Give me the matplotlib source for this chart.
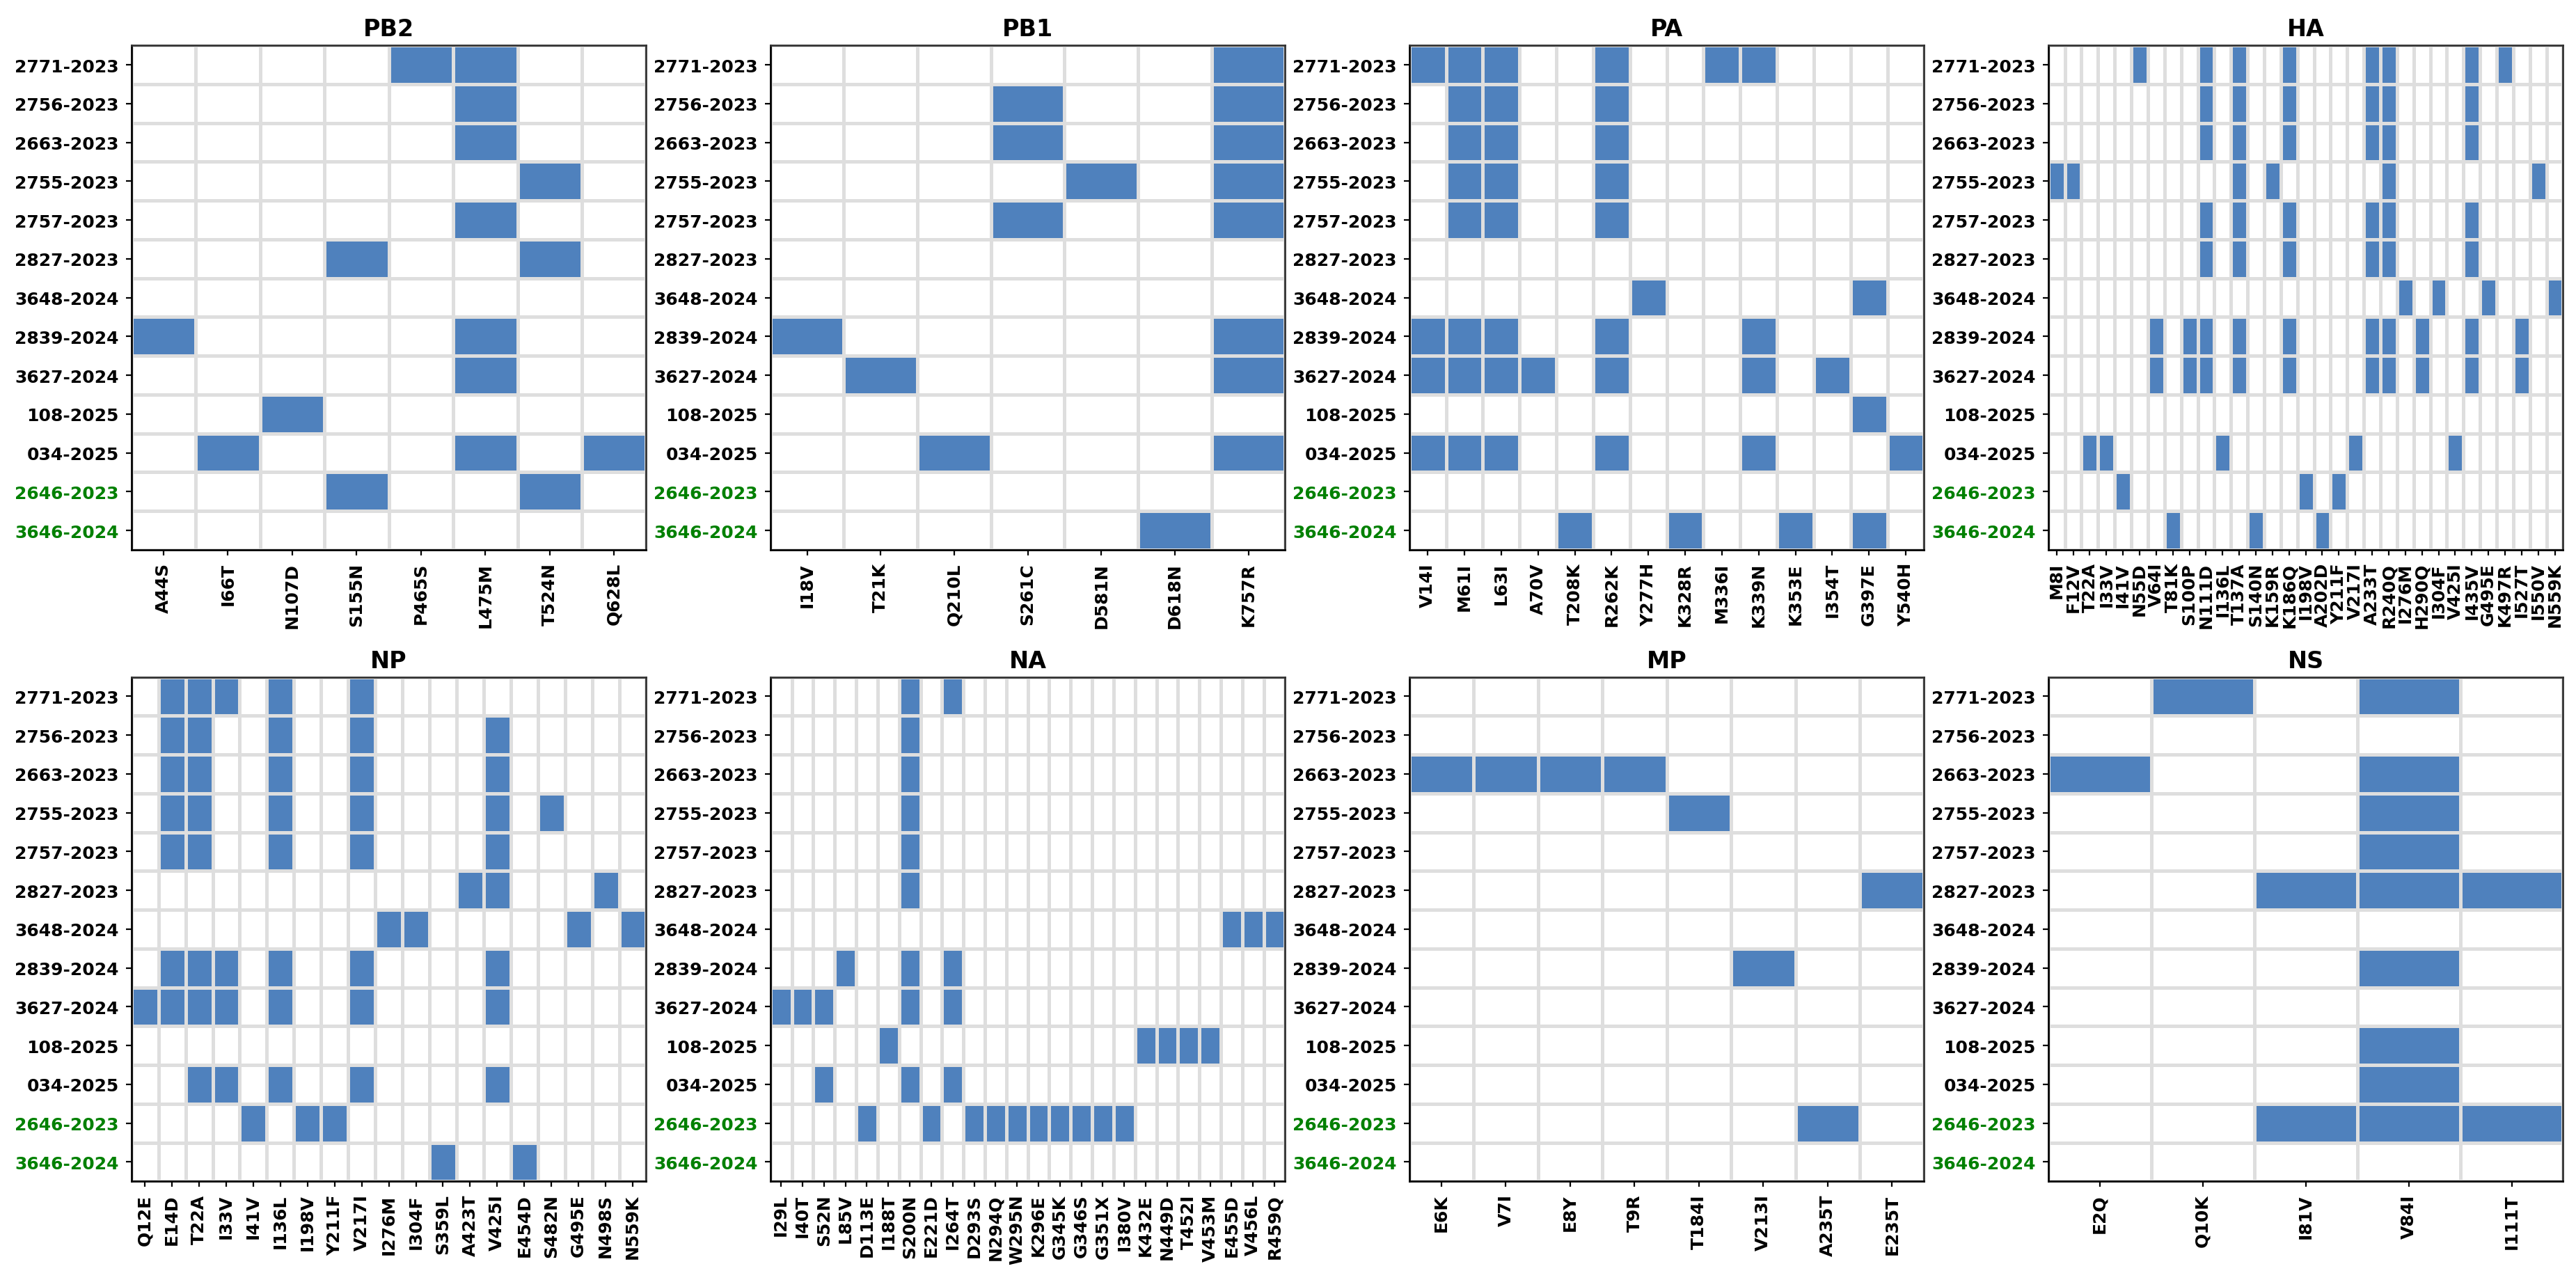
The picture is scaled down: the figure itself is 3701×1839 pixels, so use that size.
import numpy as np
import matplotlib
matplotlib.use("Agg")
import matplotlib.pyplot as plt
from matplotlib.colors import ListedColormap

# samples (top to bottom); the last two are highlighted in green
samples = ["2771-2023", "2756-2023", "2663-2023", "2755-2023", "2757-2023",
           "2827-2023", "3648-2024", "2839-2024", "3627-2024", "108-2025",
           "034-2025", "2646-2023", "3646-2024"]
green_samples = ["2646-2023", "3646-2024"]

# mutations per segment (columns)
pb2_muts = ["A44S", "I66T", "N107D", "S155N", "P465S", "L475M", "T524N", "Q628L"]
pb1_muts = ["I18V", "T21K", "Q210L", "S261C", "D581N", "D618N", "K757R"]
pa_muts = ["V14I", "M61I", "L63I", "A70V", "T208K", "R262K", "Y277H", "K328R",
           "M336I", "K339N", "K353E", "I354T", "G397E", "Y540H"]
ha_muts = ["M8I", "F12V", "T22A", "I33V", "I41V", "N55D", "V64I", "T81K", "S100P",
           "N111D", "I136L", "T137A", "S140N", "K159R", "K186Q", "I198V", "A202D",
           "Y211F", "V217I", "A233T", "R240Q", "I276M", "H290Q", "I304F", "V425I",
           "I435V", "G495E", "K497R", "I527T", "I550V", "N559K"]
np_muts = ["Q12E", "E14D", "T22A", "I33V", "I41V", "I136L", "I198V", "Y211F", "V217I",
           "I276M", "I304F", "S359L", "A423T", "V425I", "E454D", "S482N", "G495E",
           "N498S", "N559K"]
na_muts = ["I29L", "I40T", "S52N", "L85V", "D113E", "I188T", "S200N", "E221D", "I264T",
           "D293S", "N294Q", "W295N", "K296E", "G345K", "G346S", "G351X", "I380V",
           "K432E", "N449D", "T452I", "V453M", "E455D", "V456L", "R459Q"]
mp_muts = ["E6K", "V7I", "E8Y", "T9R", "T184I", "V213I", "A235T", "E235T"]
ns_muts = ["E2Q", "Q10K", "I81V", "V84I", "I111T"]

# mutations present in each sample (same order as samples)
pb2_hits = [["P465S", "L475M"], ["L475M"], ["L475M"], ["T524N"], ["L475M"],
            ["S155N", "T524N"], [], ["A44S", "L475M"], ["L475M"], ["N107D"],
            ["I66T", "L475M", "Q628L"], ["S155N", "T524N"], []]
pb1_hits = [["K757R"], ["S261C", "K757R"], ["S261C", "K757R"], ["D581N", "K757R"],
            ["S261C", "K757R"], [], [], ["I18V", "K757R"], ["T21K", "K757R"], [],
            ["Q210L", "K757R"], [], ["D618N"]]
pa_hits = [["V14I", "M61I", "L63I", "R262K", "M336I", "K339N"],
           ["M61I", "L63I", "R262K"], ["M61I", "L63I", "R262K"],
           ["M61I", "L63I", "R262K"], ["M61I", "L63I", "R262K"], [],
           ["Y277H", "G397E"],
           ["V14I", "M61I", "L63I", "R262K", "K339N"],
           ["V14I", "M61I", "L63I", "A70V", "R262K", "K339N", "I354T"],
           ["G397E"],
           ["V14I", "M61I", "L63I", "R262K", "K339N", "Y540H"], [],
           ["T208K", "K328R", "K353E", "G397E"]]
ha_hits = [["N55D", "N111D", "T137A", "K186Q", "A233T", "R240Q", "I435V", "K497R"],
           ["N111D", "T137A", "K186Q", "A233T", "R240Q", "I435V"],
           ["N111D", "T137A", "K186Q", "A233T", "R240Q", "I435V"],
           ["M8I", "F12V", "T137A", "K159R", "R240Q", "I550V"],
           ["N111D", "T137A", "K186Q", "A233T", "R240Q", "I435V"],
           ["N111D", "T137A", "K186Q", "A233T", "R240Q", "I435V"],
           ["I276M", "I304F", "G495E", "N559K"],
           ["V64I", "S100P", "N111D", "T137A", "K186Q", "A233T", "R240Q", "H290Q",
            "I435V", "I527T"],
           ["V64I", "S100P", "N111D", "T137A", "K186Q", "A233T", "R240Q", "H290Q",
            "I435V", "I527T"],
           [],
           ["T22A", "I33V", "I136L", "V217I", "V425I"],
           ["I41V", "I198V", "Y211F"],
           ["T81K", "S140N", "A202D"]]
np_hits = [["E14D", "T22A", "I33V", "I136L", "V217I"],
           ["E14D", "T22A", "I136L", "V217I", "V425I"],
           ["E14D", "T22A", "I136L", "V217I", "V425I"],
           ["E14D", "T22A", "I136L", "V217I", "V425I", "S482N"],
           ["E14D", "T22A", "I136L", "V217I", "V425I"],
           ["A423T", "V425I", "N498S"],
           ["I276M", "I304F", "G495E", "N559K"],
           ["E14D", "T22A", "I33V", "I136L", "V217I", "V425I"],
           ["Q12E", "E14D", "T22A", "I33V", "I136L", "V217I", "V425I"],
           [],
           ["T22A", "I33V", "I136L", "V217I", "V425I"],
           ["I41V", "I198V", "Y211F"],
           ["S359L", "E454D"]]
na_hits = [["S200N", "I264T"], ["S200N"], ["S200N"], ["S200N"], ["S200N"], ["S200N"],
           ["E455D", "V456L", "R459Q"],
           ["L85V", "S200N", "I264T"],
           ["I29L", "I40T", "S52N", "S200N", "I264T"],
           ["I188T", "K432E", "N449D", "T452I", "V453M"],
           ["S52N", "S200N", "I264T"],
           ["D113E", "E221D", "D293S", "N294Q", "W295N", "K296E", "G345K", "G346S",
            "G351X", "I380V"],
           []]
mp_hits = [[], [], ["E6K", "V7I", "E8Y", "T9R"], ["T184I"], [], ["E235T"], [],
           ["V213I"], [], [], [], ["A235T"], []]
ns_hits = [["Q10K", "V84I"], [], ["E2Q", "V84I"], ["V84I"], ["V84I"],
           ["I81V", "V84I", "I111T"], [], ["V84I"], [], ["V84I"], ["V84I"],
           ["I81V", "V84I", "I111T"], []]

segments = [("PB2", pb2_muts, pb2_hits), ("PB1", pb1_muts, pb1_hits),
            ("PA", pa_muts, pa_hits), ("HA", ha_muts, ha_hits),
            ("NP", np_muts, np_hits), ("NA", na_muts, na_hits),
            ("MP", mp_muts, mp_hits), ("NS", ns_muts, ns_hits)]

cmap = ListedColormap(["white", "#4f81bd"])

fig, axes = plt.subplots(2, 4, figsize=(18.505, 9.2), dpi=200)
fig.subplots_adjust(left=0.051, right=0.995, bottom=0.077, top=0.964,
                    wspace=0.241, hspace=0.252)

for ax, (name, muts, hits) in zip(axes.flat, segments):
    # 0/1 presence matrix, rows = samples, cols = mutations
    mat = np.zeros((len(samples), len(muts)))
    for i, row in enumerate(hits):
        for m in row:
            mat[i, muts.index(m)] = 1

    ax.pcolormesh(mat, cmap=cmap, vmin=0, vmax=1,
                  edgecolors="#dedede", linewidth=1.2)
    ax.set_xlim(0, len(muts))
    ax.set_ylim(len(samples), 0)

    ax.set_xticks(np.arange(len(muts)) + 0.5)
    ax.set_xticklabels(muts, rotation=90, fontsize=9, fontweight="bold")
    ax.set_yticks(np.arange(len(samples)) + 0.5)
    ax.set_yticklabels(samples, fontsize=9, fontweight="bold")
    ax.tick_params(length=3)
    for lbl in ax.get_yticklabels():
        if lbl.get_text() in green_samples:
            lbl.set_color("green")

    ax.set_title(name, fontsize=12, fontweight="bold", pad=5)
    for sp in ax.spines.values():
        sp.set_color("#333333")
        sp.set_linewidth(1.0)
    ax.spines["left"].set_color("black")
    ax.spines["bottom"].set_color("black")

fig.savefig("out.png", dpi=200)
